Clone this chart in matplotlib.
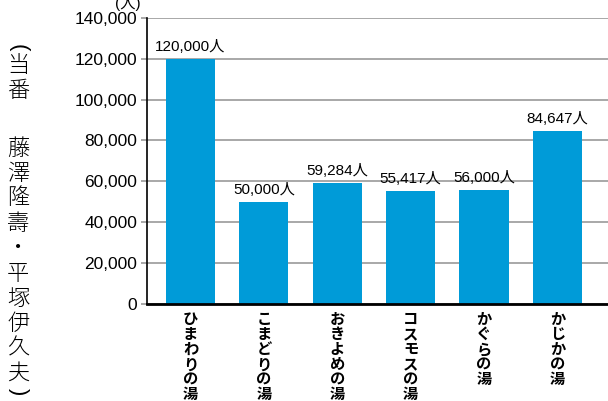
import matplotlib
matplotlib.use("Agg")
import matplotlib.pyplot as plt

# 各湯の入場者数(人)
yu_names = ["ひまわりの湯", "こまどりの湯", "おきよめの湯", "コスモスの湯", "かぐらの湯", "かじかの湯"]
visitors = [120000, 50000, 59284, 55417, 56000, 84647]
y_ticks = [0, 20000, 40000, 60000, 80000, 100000, 120000, 140000]
side_label = "(当番\u3000藤澤隆壽・平塚伊久夫)"

plt.rcParams['font.family'] = ['Liberation Sans', 'Noto Sans CJK JP']
bar_color = "#009bd8"

fig = plt.figure(figsize=(6.08, 4.01), dpi=100)
ax = fig.add_axes([0.2418, 0.2419, 0.7582, 0.7136])

x = list(range(len(yu_names)))
ax.bar(x, visitors, width=0.67, color=bar_color, zorder=3)

ax.set_ylim(0, 140000)
ax.set_xlim(-0.593, 5.69)
ax.set_yticks(y_ticks)
ax.set_yticklabels([f"{v:,}" for v in y_ticks], fontsize=12.5)
ax.grid(axis="y", color="#999999", linewidth=1.2, zorder=0)
ax.tick_params(axis="y", length=4, color="#999999", width=1.2, pad=3)

for s in ["top", "right"]:
    ax.spines[s].set_visible(False)
ax.spines["left"].set_linewidth(1.2)
ax.spines["bottom"].set_linewidth(2)
ax.spines["bottom"].set_zorder(4)

# カテゴリ名は縦書き
ax.set_xticks(x)
ax.set_xticklabels(["\n".join(n) for n in yu_names], fontsize=11, fontweight="bold",
                   family="Noto Sans CJK JP", va="top")
for t in ax.get_xticklabels():
    t.set_linespacing(0.93)
ax.tick_params(axis="x", length=0, pad=5)

# 値ラベル
for xi, v in zip(x, visitors):
    ax.text(xi, v + 2200, f"{v:,}人", ha="center", va="bottom", fontsize=11)

# 単位
ax.text(-0.85, 143500, "(人)", ha="center", va="bottom", fontsize=11, clip_on=False)

# 左側の縦書き(1文字ずつ下へ)、括弧は90度回転
H = 401.0
step = 25.0
ypix = 48.0
for i, ch in enumerate(side_label):
    if ch in "()":
        fig.text(0.03, 1 - ypix / H, ch, ha="center", va="center", fontsize=16,
                 rotation=-90, rotation_mode="anchor", family="Liberation Sans",
                 fontweight="light")
    elif ch != "\u3000":
        fig.text(0.03, 1 - ypix / H, ch, ha="center", va="center", fontsize=16,
                 family="Noto Sans CJK JP", fontweight="light")
    nxt = side_label[i + 1] if i + 1 < len(side_label) else ""
    if ch == "(" or nxt == ")":
        ypix += step * 0.72
    elif ch == "\u3000":
        ypix += step * 1.3
    else:
        ypix += step

fig.savefig("out.png", dpi=100)
